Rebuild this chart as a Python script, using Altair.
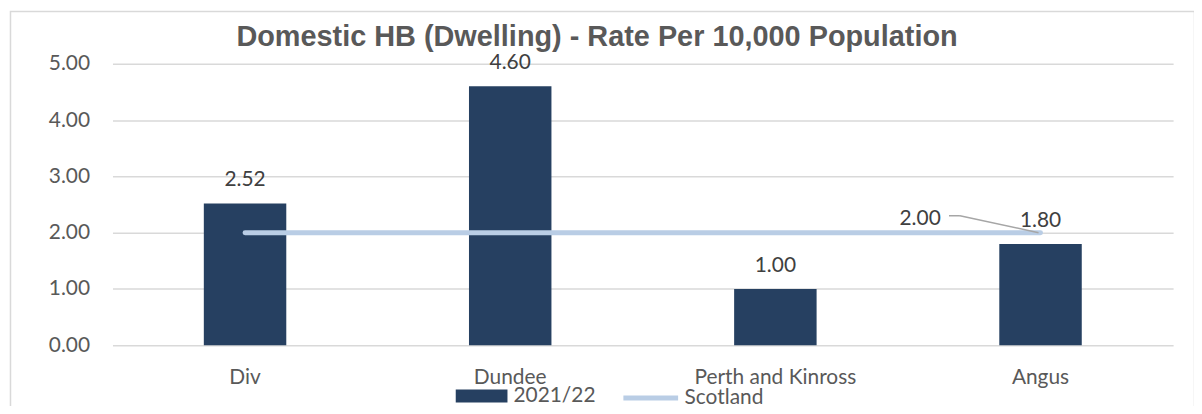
import altair as alt
import pandas as pd

title_text = "Domestic HB (Dwelling) - Rate Per 10,000 Population"
categories = ["Div", "Dundee", "Perth and Kinross", "Angus"]
rate_2021_22 = [2.52, 4.60, 1.00, 1.80]
scotland = [2.00, 2.00, 2.00, 2.00]
y_ticks = [0, 1, 2, 3, 4, 5]

BAR = "#264061"
LINE = "#B9CDE5"
GRID = "#D9D9D9"
TXT = "#595959"
VAL = "#404040"
FONT = "Lato"

W, H = 1066, 283
STEP = W / 4

df = pd.DataFrame({
    "category": categories,
    "rate": rate_2021_22,
    "scotland": scotland,
    "bar_series": ["2021/22"] * 4,
    "line_series": ["Scotland"] * 4,
})

x_enc = alt.X(
    "category:N", sort=categories,
    scale=alt.Scale(paddingInner=0.689, paddingOuter=0.3445),
    axis=alt.Axis(title=None, labelAngle=0, domain=False, ticks=False, tickSize=0,
                  labelFont=FONT, labelFontSize=21, labelColor=TXT, labelPadding=21,
                  grid=False),
)
y_scale = alt.Scale(domain=[0, 5], nice=False)

base = alt.Chart(df)

bars = base.mark_bar(opacity=1).encode(
    x=x_enc,
    y=alt.Y("rate:Q", scale=y_scale,
            axis=alt.Axis(title=None, values=y_ticks, format=".2f", domain=False,
                          ticks=False, tickSize=0, labelFont=FONT, labelFontSize=21,
                          labelColor=TXT, labelPadding=23, gridColor=GRID, gridWidth=1.5)),
    color=alt.Color("bar_series:N", scale=alt.Scale(domain=["2021/22"], range=[BAR]),
                    legend=alt.Legend(orient="none", legendX=345, legendY=308, title=None,
                                      padding=0, labelFont=FONT, labelFontSize=21,
                                      labelColor=TXT, labelOffset=6,
                                      symbolType="M-1,-0.25H1V0.25H-1Z", symbolSize=2704,
                                      symbolStrokeWidth=0, symbolOpacity=1)),
)

bar_labels = base.mark_text(font=FONT, fontSize=21, color=VAL, baseline="alphabetic",
                            dy=-17).encode(
    x=alt.X("category:N", sort=categories),
    y=alt.Y("rate:Q"),
    text=alt.Text("rate:Q", format=".2f"),
)

line = base.mark_line(strokeWidth=5, strokeCap="round").encode(
    x=alt.X("category:N", sort=categories),
    y=alt.Y("scotland:Q"),
    stroke=alt.Stroke("line_series:N", scale=alt.Scale(domain=["Scotland"], range=[LINE]),
                      legend=alt.Legend(orient="none", legendX=511, legendY=306, title=None,
                                        padding=0, labelFont=FONT, labelFontSize=21,
                                        labelColor=TXT, labelOffset=4,
                                        symbolType="stroke", symbolSize=3025,
                                        symbolStrokeWidth=5)),
)

last = base.transform_filter(alt.datum.category == categories[-1])

line_label = last.mark_text(font=FONT, fontSize=21, color=VAL, baseline="alphabetic",
                            dx=-121, dy=-8).encode(
    x=alt.X("category:N", sort=categories),
    y=alt.Y("scotland:Q"),
    text=alt.Text("scotland:Q", format=".2f"),
)

# leader line from the "2.00" label to the end point of the Scotland line
ax = 3.5 * STEP
ay = H * (1 - 2.0 / 5)
leader1 = last.mark_rule(color="#A6A6A6", strokeWidth=1.5).encode(
    x=alt.value(ax - 92), x2=alt.value(ax - 81), y=alt.value(ay - 17), y2=alt.value(ay - 17))
leader2 = last.mark_rule(color="#A6A6A6", strokeWidth=1.5).encode(
    x=alt.value(ax - 81), x2=alt.value(ax - 2), y=alt.value(ay - 17), y2=alt.value(ay))

one = alt.Chart(pd.DataFrame({"f": [0]}))

frame = one.mark_rect(fill=None, stroke=GRID, strokeWidth=1.5).encode(
    x=alt.value(-102.5), x2=alt.value(1087.5), y=alt.value(-52.5), y2=alt.value(400))

title = one.mark_text(font="Liberation Sans", fontSize=29, fontWeight="bold", color=TXT,
                      align="center", baseline="alphabetic").encode(
    x=alt.value(487), y=alt.value(-18), text=alt.value(title_text))

chart = alt.layer(frame, title, bars, line, bar_labels, line_label, leader1, leader2).properties(
    width=W, height=H,
    autosize=alt.AutoSizeParams(type="none"),
    padding={"left": 105, "top": 55, "right": 21, "bottom": 60},
).configure(background="white").configure_view(stroke=None)

chart.save("out.html", embed_options={"renderer": "svg", "actions": False})
